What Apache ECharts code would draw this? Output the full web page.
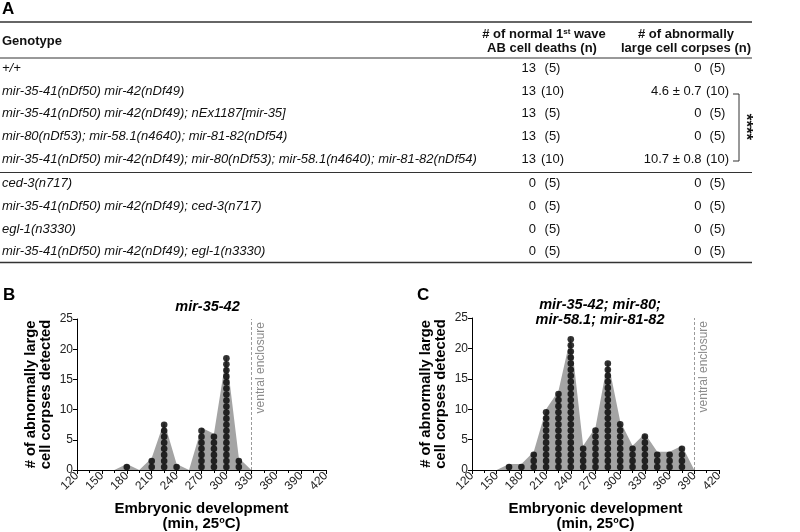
<!DOCTYPE html>
<html><head><meta charset="utf-8">
<script src="https://cdn.jsdelivr.net/npm/echarts@6/dist/echarts.min.js"></script>
<style>html,body{margin:0;padding:0;background:#fff}#c{width:800px;height:532px}</style>
</head><body><div id="c"></div>
<script>
const FONT = '"Liberation Sans", Arial, Helvetica, sans-serif';

// ---- Table (panel A) ----
const genotypes = [
  '+/+',
  'mir-35-41(nDf50) mir-42(nDf49)',
  'mir-35-41(nDf50) mir-42(nDf49); nEx1187[mir-35]',
  'mir-80(nDf53); mir-58.1(n4640); mir-81-82(nDf54)',
  'mir-35-41(nDf50) mir-42(nDf49); mir-80(nDf53); mir-58.1(n4640); mir-81-82(nDf54)',
  'ced-3(n717)',
  'mir-35-41(nDf50) mir-42(nDf49); ced-3(n717)',
  'egl-1(n3330)',
  'mir-35-41(nDf50) mir-42(nDf49); egl-1(n3330)'
];
const deaths   = ['13','13','13','13','13','0','0','0','0'];
const deathsN  = ['(5)','(10)','(5)','(5)','(10)','(5)','(5)','(5)','(5)'];
const corpses  = ['0','4.6 \u00b1 0.7','0','0','10.7 \u00b1 0.8','0','0','0','0'];
const corpsesN = ['(5)','(10)','(5)','(5)','(10)','(5)','(5)','(5)','(5)'];

// ---- Panel B: mir-35-42 ----
const timesB  = [180, 210, 225, 240, 270, 285, 300, 315];
const countsB = [1, 2, 8, 1, 7, 6, 19, 2];
const areaXB  = [165, 180, 195, 210, 225, 240, 255, 270, 285, 300, 315, 330];
const areaYB  = [0, 1, 0, 2, 8, 1, 0, 7, 6, 19, 2, 0];
const enclosureB = 330;

// ---- Panel C: mir-35-42; mir-80; mir-58.1; mir-81-82 ----
const timesC  = [165, 180, 195, 210, 225, 240, 255, 270, 285, 300, 315, 330, 345, 360, 375];
const countsC = [1, 1, 3, 10, 13, 22, 4, 7, 18, 8, 4, 6, 3, 3, 4];
const areaXC  = [150, 165, 180, 195, 210, 225, 240, 255, 270, 285, 300, 315, 330, 345, 360, 375, 390];
const areaYC  = [0, 1, 1, 3, 10, 13, 22, 4, 7, 18, 8, 4, 6, 3, 3, 4, 0];
const enclosureC = 390;

const xTicks = [120,150,180,210,240,270,300,330,360,390,420];
const yTicks = [0,5,10,15,20,25];

function stackDots(times, counts) {
  const out = [];
  times.forEach((t, i) => { for (let k = 0; k < counts[i]; k++) out.push([t, k + 0.5]); });
  return out;
}
function pairs(xs, ys) { return xs.map((x, i) => [x, ys[i]]); }

// ---- graphic elements for the table ----
const g = [];
const txt = (x, y, text, opts) => g.push(Object.assign({
  type: 'text', x, y, silent: true,
  style: Object.assign({ text, fill: '#111', font: '13px ' + FONT, align: 'left', verticalAlign: 'middle' }, opts || {})
}));
const hline = (y, w) => g.push({ type: 'line', silent: true, shape: { x1: 0, y1: y, x2: 752, y2: y },
  style: { stroke: '#333', lineWidth: w } });

txt(2, 9, 'A', { font: 'bold 17px ' + FONT, fill: '#000' });
txt(3, 295, 'B', { font: 'bold 17px ' + FONT, fill: '#000' });
txt(417, 295, 'C', { font: 'bold 17px ' + FONT, fill: '#000' });

hline(22, 1.6);
hline(58, 1);
hline(172.5, 1);
hline(262.5, 1.6);

txt(2, 41.5, 'Genotype', { font: 'bold 13px ' + FONT });
const supRich = { sup: { fontSize: 8, fontWeight: 'bold', fontFamily: FONT, fill: '#111', verticalAlign: 'top', padding: [0,0,5,0] } };
txt(544, 34, '# of normal 1{sup|st} wave', { font: 'bold 13px ' + FONT, align: 'center', rich: supRich });
txt(542, 48, 'AB cell deaths (n)', { font: 'bold 13px ' + FONT, align: 'center' });
txt(686, 34, '# of abnormally', { font: 'bold 13px ' + FONT, align: 'center' });
txt(686, 48, 'large cell corpses (n)', { font: 'bold 13px ' + FONT, align: 'center' });

const rowY = [68.5, 91, 113.5, 136, 159.5, 183.5, 206, 229, 251.5];
genotypes.forEach((s, i) => {
  txt(2, rowY[i], s, { font: 'italic 13px ' + FONT });
  txt(536, rowY[i], deaths[i], { align: 'right' });
  txt(552.5, rowY[i], deathsN[i], { align: 'center' });
  txt(701.5, rowY[i], corpses[i], { align: 'right' });
  txt(717.5, rowY[i], corpsesN[i], { align: 'center' });
});
g.push({ type: 'polyline', silent: true, shape: { points: [[733, 94], [739, 94], [739, 161], [733, 161]] },
  style: { stroke: '#333', lineWidth: 1, fill: null } });
g.push({ type: 'text', silent: true, x: 746, y: 127, rotation: -Math.PI / 2,
  style: { text: '****', font: 'bold 17px ' + FONT, fill: '#111', align: 'center', verticalAlign: 'middle' } });

// ---- axes ----
function xAx(gridIndex) {
  return {
    type: 'value', gridIndex, min: 120, max: 420, interval: 30,
    axisLine: { show: true, onZero: false, lineStyle: { color: '#000', width: 1 } },
    axisTick: { show: true, length: 4, lineStyle: { color: '#000' } },
    minorTick: { show: true, splitNumber: 2, length: 3, lineStyle: { color: '#000' } },
    axisLabel: { rotate: 45, fontSize: 12, color: '#222', fontFamily: FONT, margin: 4,
      formatter: v => xTicks.includes(v) ? String(v) : '' },
    splitLine: { show: false }, minorSplitLine: { show: false },
    name: 'Embryonic development\n(min, 25{sup|o}C)', nameLocation: 'middle', nameGap: 31,
    nameTextStyle: { fontWeight: 'bold', fontSize: 15, lineHeight: 15, color: '#000', fontFamily: FONT,
      rich: { sup: { fontSize: 9, fontWeight: 'bold', fontFamily: FONT, color: '#000', verticalAlign: 'top', lineHeight: 15, padding: [0,0,6,0] } } }
  };
}
function yAx(gridIndex) {
  return {
    type: 'value', gridIndex, min: 0, max: 25, interval: 5,
    axisLine: { show: true, lineStyle: { color: '#000', width: 1 } },
    axisTick: { show: true, length: 4, lineStyle: { color: '#000' } },
    axisLabel: { fontSize: 12, color: '#222', fontFamily: FONT, margin: 4,
      formatter: v => yTicks.includes(v) ? String(v) : '' },
    splitLine: { show: false },
    name: '# of abnormally large\ncell corpses detected', nameLocation: 'middle', nameGap: 24,
    nameTextStyle: { fontWeight: 'bold', fontSize: 14.7, lineHeight: 15, color: '#000', fontFamily: FONT }
  };
}

function markLine(v) {
  return {
    silent: true, symbol: ['none', 'none'], animation: false,
    lineStyle: { color: '#9a9a9a', type: [3, 2], width: 1 },
    label: { show: true, formatter: 'ventral enclosure', position: 'insideEndBottom',
      color: '#8c8c8c', fontSize: 12, fontFamily: FONT, distance: 3 },
    data: [{ xAxis: v }]
  };
}

const AREA = '#a4a4a4';
const option = {
  animation: false,
  backgroundColor: '#fff',
  title: [
    { text: 'mir-35-42', left: 202.5, top: 294, textAlign: 'center',
      textStyle: { fontStyle: 'italic', fontWeight: 'bold', fontSize: 14.5, color: '#000', fontFamily: FONT } },
    { text: 'mir-35-42; mir-80;\nmir-58.1; mir-81-82', left: 595, top: 292, textAlign: 'center',
      textStyle: { fontStyle: 'italic', fontWeight: 'bold', fontSize: 14.5, lineHeight: 15, color: '#000', fontFamily: FONT } }
  ],
  grid: [
    { left: 77, top: 319, width: 249, height: 152 },
    { left: 472, top: 318, width: 247, height: 153 }
  ],
  xAxis: [xAx(0), xAx(1)],
  yAxis: [yAx(0), yAx(1)],
  series: [
    { type: 'line', xAxisIndex: 0, yAxisIndex: 0, data: pairs(areaXB, areaYB), showSymbol: false, symbol: 'none',
      lineStyle: { width: 0 }, areaStyle: { color: AREA, opacity: 1 }, silent: true, z: 1 },
    { type: 'scatter', xAxisIndex: 0, yAxisIndex: 0, data: stackDots(timesB, countsB), symbolSize: 6.6,
      itemStyle: { color: '#000' }, silent: true, z: 3, markLine: markLine(enclosureB) },
    { type: 'line', xAxisIndex: 1, yAxisIndex: 1, data: pairs(areaXC, areaYC), showSymbol: false, symbol: 'none',
      lineStyle: { width: 0 }, areaStyle: { color: AREA, opacity: 1 }, silent: true, z: 1 },
    { type: 'scatter', xAxisIndex: 1, yAxisIndex: 1, data: stackDots(timesC, countsC), symbolSize: 6.6,
      itemStyle: { color: '#000' }, silent: true, z: 3, markLine: markLine(enclosureC) }
  ],
  graphic: g
};
const chart = echarts.init(document.getElementById('c'));
chart.setOption(option);
</script>
</body></html>
